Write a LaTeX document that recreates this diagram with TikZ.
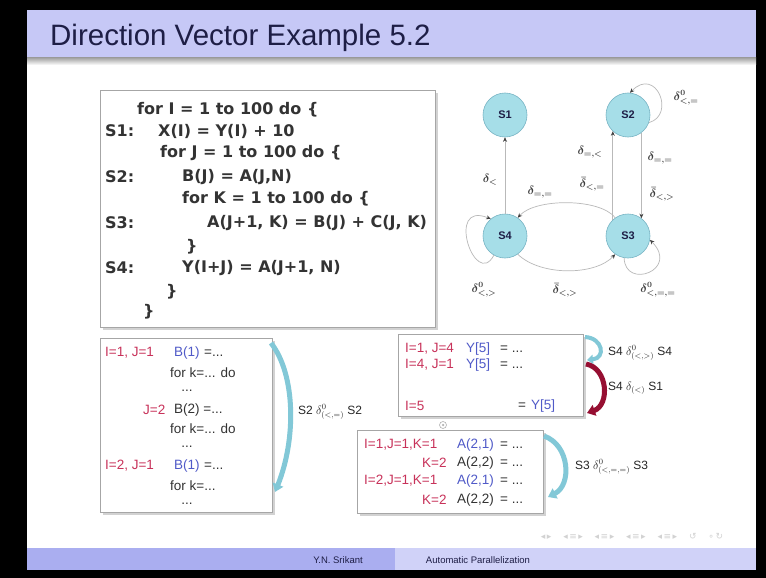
\documentclass[tikz,border=0pt]{standalone}
\usepackage{fontspec}
\setmainfont{Liberation Sans}
\newfontfamily\codefont{DejaVu Sans}
\newfontfamily\symfont{DejaVu Sans}
\usetikzlibrary{arrows.meta}
\definecolor{titlebar}{RGB}{198,200,246}
\definecolor{footA}{RGB}{170,174,240}
\definecolor{footB}{RGB}{208,210,248}
\definecolor{navy}{RGB}{30,30,70}
\definecolor{nodecyan}{RGB}{166,222,232}
\definecolor{nodeedge}{RGB}{120,180,196}
\definecolor{redtxt}{RGB}{200,50,90}
\definecolor{bluetxt}{RGB}{80,90,200}
\definecolor{ribcyan}{RGB}{130,200,215}
\definecolor{ribred}{RGB}{150,15,50}
\tikzset{
  codeline/.style={anchor=west, inner sep=0pt, font=\codefont\bfseries\fontsize{16}{19}\selectfont, text=black!80},
  st/.style={circle, minimum size=44pt, inner sep=0pt, fill=nodecyan, draw=nodeedge, line width=0.6pt, font=\bfseries\fontsize{11}{13}\selectfont, text=navy},
  gedge/.style={draw=gray!55, line width=0.7pt, -{Stealth[length=4.5pt,width=4pt,color=black!75]}},
  glab/.style={inner sep=0pt, font=\boldmath\fontsize{11.5}{13}\selectfont, text=black!75},
  box/.style={draw=gray!70, fill=white, line width=0.7pt},
  shadow/.style={fill=gray!35},
  bt/.style={anchor=west, inner sep=0pt, font=\fontsize{13.5}{15}\selectfont, text=black!80},
  rd/.style={bt, text=redtxt},
  bl/.style={bt, text=bluetxt},
  dlab/.style={anchor=west, inner sep=0pt, font=\fontsize{12}{14}\selectfont, text=black!85},
  ribbon/.style={line width=5pt, -{Triangle[width=11pt,length=8pt]}},
}
\begin{document}
\begin{tikzpicture}[x=1pt,y=-1pt]
\useasboundingbox (0,0) rectangle (766,578);
% frame and slide
\fill[black] (0,0) rectangle (766,578);
\fill[white] (27,10) rectangle (756,570);
\fill[titlebar] (27,10) rectangle (756,58);
\shade[top color=gray!70, bottom color=white] (27,58) rectangle (756,65);
\node[anchor=west, inner sep=0pt, font=\fontsize{29.5}{33}\selectfont, text=navy] (title) at (50,38) {Direction Vector Example 5.2};
% footer
\fill[footA] (27,548) rectangle (395,570);
\fill[footB] (395,548) rectangle (756,570);
\node[inner sep=0pt, font=\fontsize{9.5}{11}\selectfont, text=navy] (auth) at (338,560) {Y.N. Srikant};
\node[inner sep=0pt, font=\fontsize{9.5}{11}\selectfont, text=navy] (talk) at (478,560) {Automatic Parallelization};
\node[inner sep=0pt, font=\symfont\fontsize{9}{10}\selectfont, text=gray!35] (nav) at (632,536) {◂\,▸ \quad ◂\,≡\,▸ \quad ◂\,≡\,▸ \quad ◂\,≡\,▸ \quad ◂\,≡\,▸ \quad ↺ \quad ∘\,↻};
% code box
\fill[shadow] (103,93) rectangle (438,330);
\draw[box] (100,90) rectangle (435,327);
\node[codeline] (c1) at (137,110) {for I = 1 to 100 do \{};
\node[codeline] (s1) at (105,131) {S1:};
\node[codeline] (c2) at (158,131) {X(I) = Y(I) + 10};
\node[codeline] (c3) at (160,153) {for J = 1 to 100 do \{};
\node[codeline] (s2) at (105,177) {S2:};
\node[codeline] (c4) at (182,177) {B(J) = A(J,N)};
\node[codeline] (c5) at (182,199) {for K = 1 to 100 do \{};
\node[codeline] (s3) at (105,223) {S3:};
\node[codeline] (c6) at (207,223) {A(J+1, K) = B(J) + C(J, K)};
\node[codeline] (c7) at (186,247) {\}};
\node[codeline] (s4) at (105,268) {S4:};
\node[codeline] (c8) at (182,268) {Y(I+J) = A(J+1, N)};
\node[codeline] (c9) at (166,292) {\}};
\node[codeline] (c10) at (143,312) {\}};
% dependence graph
\node[st] (S1) at (505,115) {S1};
\node[st] (S2) at (628,115) {S2};
\node[st] (S4) at (505,236) {S4};
\node[st] (S3) at (628,236) {S3};
\draw[gedge] (S4) -- (S1);
\draw[gedge] (S3.133) -- (S2.227);
\draw[gedge] (S2.-53) -- (S3.53);
\draw[gedge] (S3.125) .. controls (600,198) and (535,198) .. (S4.55);
\draw[gedge] (S4.-55) .. controls (540,276) and (595,276) .. (S3.-125);
\draw[gedge] (S4.240) .. controls (475,290) and (445,200) .. (S4.130);
\draw[gedge] (S3.-100) .. controls (625,290) and (680,270) .. (S3.-10);
\draw[gedge] (S2.-20) .. controls (676,115) and (656,66) .. (S2.85);
\node[glab] (l1) at (490,180) {$\delta_{<}$};
\node[glab] (l2) at (540,192) {$\delta_{=,=}$};
\node[glab] (l3) at (590,152) {$\delta_{=,<}$};
\node[glab] (l4) at (592,184) {$\bar\delta_{<,=}$};
\node[glab] (l5) at (660,158) {$\delta_{=,=}$};
\node[glab] (l6) at (662,194) {$\bar\delta_{<,>}$};
\node[glab] (l7) at (484,290) {$\delta^{0}_{<,>}$};
\node[glab] (l8) at (565,290) {$\bar\delta_{<,>}$};
\node[glab] (l9) at (658,290) {$\delta^{0}_{<,=,=}$};
\node[glab] (l10) at (686,98) {$\delta^{0}_{<,=}$};
% box 1
\fill[shadow] (103,341) rectangle (275,515);
\draw[box] (100,338) rectangle (272,512);
\node[rd] (b1a) at (105,353) {I=1, J=1};
\node[bl] (b1b) at (174,353) {B(1)};
\node[bt] (b1c) at (204,353) {=...};
\node[bt] (b1d) at (170,373) {for k=... do};
\node[bt, anchor=center] (b1e) at (187,391) {...};
\node[rd] (b1f) at (143,410) {J=2};
\node[bt] (b1g) at (174,410) {B(2) =...};
\node[bt] (b1h) at (170,429) {for k=... do};
\node[bt, anchor=center] (b1i) at (187,447) {...};
\node[rd] (b1j) at (105,466) {I=2, J=1};
\node[bl] (b1k) at (174,466) {B(1)};
\node[bt] (b1l) at (204,466) {=...};
\node[bt] (b1m) at (170,486) {for k=...};
\node[bt, anchor=center] (b1n) at (187,504) {...};
\coordinate (r1s) at (271,343);
\coordinate (r1e) at (275,492);
\draw[ribbon, ribcyan] (r1s) .. controls (296,375) and (296,440) .. (r1e);
\node[dlab] (d1) at (298,412) {S2 $\delta^{0}_{(<,=)}$ S2};
% box 2
\fill[shadow] (401,337) rectangle (586,419);
\draw[box] (398,334) rectangle (583,416);
\node[rd] (b2a) at (405,349) {I=1, J=4};
\node[bl] (b2b) at (466,349) {Y[5]};
\node[bt] (b2c) at (500,349) {= ...};
\node[rd] (b2d) at (405,365) {I=4, J=1};
\node[bl] (b2e) at (466,365) {Y[5]};
\node[bt] (b2f) at (500,365) {= ...};
\node[rd] (b2g) at (405,406) {I=5};
\node[bt] (b2h) at (518,406) {=};
\node[bl] (b2i) at (531,406) {Y[5]};
\coordinate (r2s) at (585,337);
\coordinate (r2e) at (587,360);
\coordinate (r3s) at (586,364);
\coordinate (r3e) at (587,413);
\draw[ribbon, ribcyan, line width=4pt, -{Triangle[width=9pt,length=6pt]}] (r2s) .. controls (603,338) and (606,358) .. (r2e);
\draw[ribbon, ribred, line width=5pt] (r3s) .. controls (608,368) and (610,405) .. (r3e);
\node[dlab] (d2) at (608,353) {S4 $\delta^{0}_{(<,>)}$ S4};
\node[dlab] (d3) at (608,388) {S4 $\delta_{(<)}$ S1};
% small marker
\node[circle, draw=gray!60, line width=0.6pt, minimum size=7pt, inner sep=0pt] (mk) at (443,425) {};
\node[circle, fill=gray!60, minimum size=2.5pt, inner sep=0pt] (mk2) at (443,425) {};
% box 3
\fill[shadow] (360,433) rectangle (546,516);
\draw[box] (357,430) rectangle (543,513);
\node[rd] (b3a) at (364,445) {I=1,J=1,K=1};
\node[bl] (b3b) at (457,445) {A(2,1)};
\node[bt] (b3c) at (500,445) {= ...};
\node[rd] (b3d) at (422,463) {K=2};
\node[bt] (b3e) at (457,463) {A(2,2)};
\node[bt] (b3f) at (500,463) {= ...};
\node[rd] (b3g) at (364,481) {I=2,J=1,K=1};
\node[bl] (b3h) at (457,481) {A(2,1)};
\node[bt] (b3i) at (500,481) {= ...};
\node[rd] (b3j) at (422,500) {K=2};
\node[bt] (b3k) at (457,500) {A(2,2)};
\node[bt] (b3l) at (500,500) {= ...};
\coordinate (r4s) at (544,436);
\coordinate (r4e) at (548,497);
\draw[ribbon, ribcyan] (r4s) .. controls (570,445) and (572,485) .. (r4e);
\node[dlab] (d4) at (575,467) {S3 $\delta^{0}_{(<,=,=)}$ S3};
\end{tikzpicture}
\end{document}
